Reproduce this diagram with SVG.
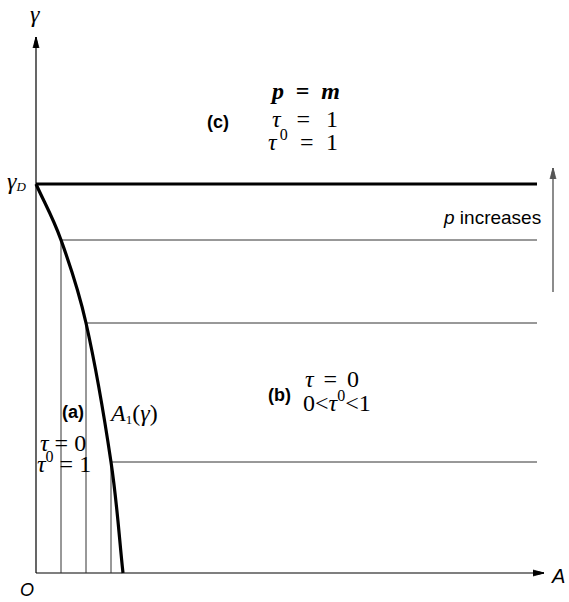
<svg xmlns="http://www.w3.org/2000/svg" width="569" height="602" viewBox="0 0 569 602">
<style>
.ax{stroke:#000;stroke-width:1.2;fill:none}
.thin{stroke:#333;stroke-width:1;fill:none}
.thick{stroke:#000;stroke-width:3.2;fill:none}
.m{font-family:"Liberation Serif","DejaVu Serif",serif;fill:#000;font-size:24px}
.i{font-style:italic}
.sup{font-size:16px}
.s{font-family:"Liberation Sans",Arial,sans-serif;fill:#000}
.b{font-family:"Liberation Sans",Arial,sans-serif;font-weight:bold;fill:#000;font-size:18px}
</style>
<defs>
<marker id="ah" markerWidth="12" markerHeight="8" refX="11" refY="4" orient="auto" markerUnits="userSpaceOnUse">
<path d="M0,1 L11,4 L0,7 M4,2.5 L11,4 L4,5.5 Z" fill="#000" stroke="#000" stroke-width="0.8"/>
</marker>
<marker id="ahg" markerWidth="12" markerHeight="8" refX="11" refY="4" orient="auto" markerUnits="userSpaceOnUse">
<path d="M0,1 L11,4 L0,7 M4,2.5 L11,4 L4,5.5 Z" fill="#555" stroke="#555" stroke-width="0.8"/>
</marker>
</defs>
<g id="connectors">
<line class="ax" x1="36" y1="573" x2="36" y2="37" marker-end="url(#ah)"/>
<line class="ax" x1="36" y1="573" x2="544" y2="573" marker-end="url(#ah)"/>
<line class="thick" x1="36" y1="184" x2="537" y2="184"/>
<line class="thin" x1="61" y1="240" x2="537" y2="240"/>
<line class="thin" x1="86" y1="323" x2="537" y2="323"/>
<line class="thin" x1="111" y1="462" x2="537" y2="462"/>
<line class="thin" x1="61" y1="240" x2="61" y2="573"/>
<line class="thin" x1="86" y1="323" x2="86" y2="573"/>
<line class="thin" x1="111" y1="462" x2="111" y2="573"/>
<path class="thick" d="M36,184 C44.3,202.7 52.7,216.8 61,240 C69.3,263.2 77.7,286 86,323 C94.3,360 104.8,420.3 111,462 C117.2,503.7 119,536 123,573"/>
<line x1="553" y1="292" x2="553" y2="168" stroke="#666" stroke-width="1.5" marker-end="url(#ahg)"/>
</g>
<g id="axis-labels">
<text class="m i" x="30" y="22" font-size="20">γ</text>
<text class="m i" x="7" y="189" font-size="21">γ<tspan font-size="13" dy="2">D</tspan></text>
<text class="s" x="20" y="596" font-size="18" font-style="italic">O</text>
<text class="s" x="552" y="583" font-size="20" font-style="italic">A</text>
<text class="s" x="444" y="224" font-size="19"><tspan font-style="italic">p</tspan> increases</text>
</g>
<g id="region-c">
<text class="b" x="207" y="128">(c)</text>
<text class="m i" x="272" y="99" font-size="20" font-weight="bold" textLength="68" lengthAdjust="spacing">p <tspan font-style="normal">=</tspan> m</text>
<text class="m" x="272" y="127" textLength="66" lengthAdjust="spacing"><tspan class="i">τ</tspan> = 1</text>
<text class="m" x="268" y="150" textLength="70" lengthAdjust="spacing"><tspan class="i">τ</tspan><tspan class="sup" dy="-10">0</tspan><tspan dy="10"> = 1</tspan></text>
</g>
<g id="region-b">
<text class="b" x="268" y="401">(b)</text>
<text class="m" x="305" y="387" textLength="54" lengthAdjust="spacing"><tspan class="i">τ</tspan> = 0</text>
<text class="m" x="303" y="411">0&lt;<tspan class="i">τ</tspan><tspan class="sup" dy="-10">0</tspan><tspan dy="10">&lt;1</tspan></text>
</g>
<g id="region-a">
<text class="b" x="62" y="418">(a)</text>
<text class="m i" x="111" y="421" font-size="21">A<tspan font-size="13" dy="3" font-style="normal">1</tspan><tspan dy="-3" font-style="normal">(</tspan>γ<tspan font-style="normal">)</tspan></text>
<text class="m" x="40" y="451"><tspan class="i">τ</tspan> = 0</text>
<text class="m" x="37" y="472"><tspan class="i">τ</tspan><tspan class="sup" dy="-10">0</tspan><tspan dy="10"> = 1</tspan></text>
</g>
</svg>
